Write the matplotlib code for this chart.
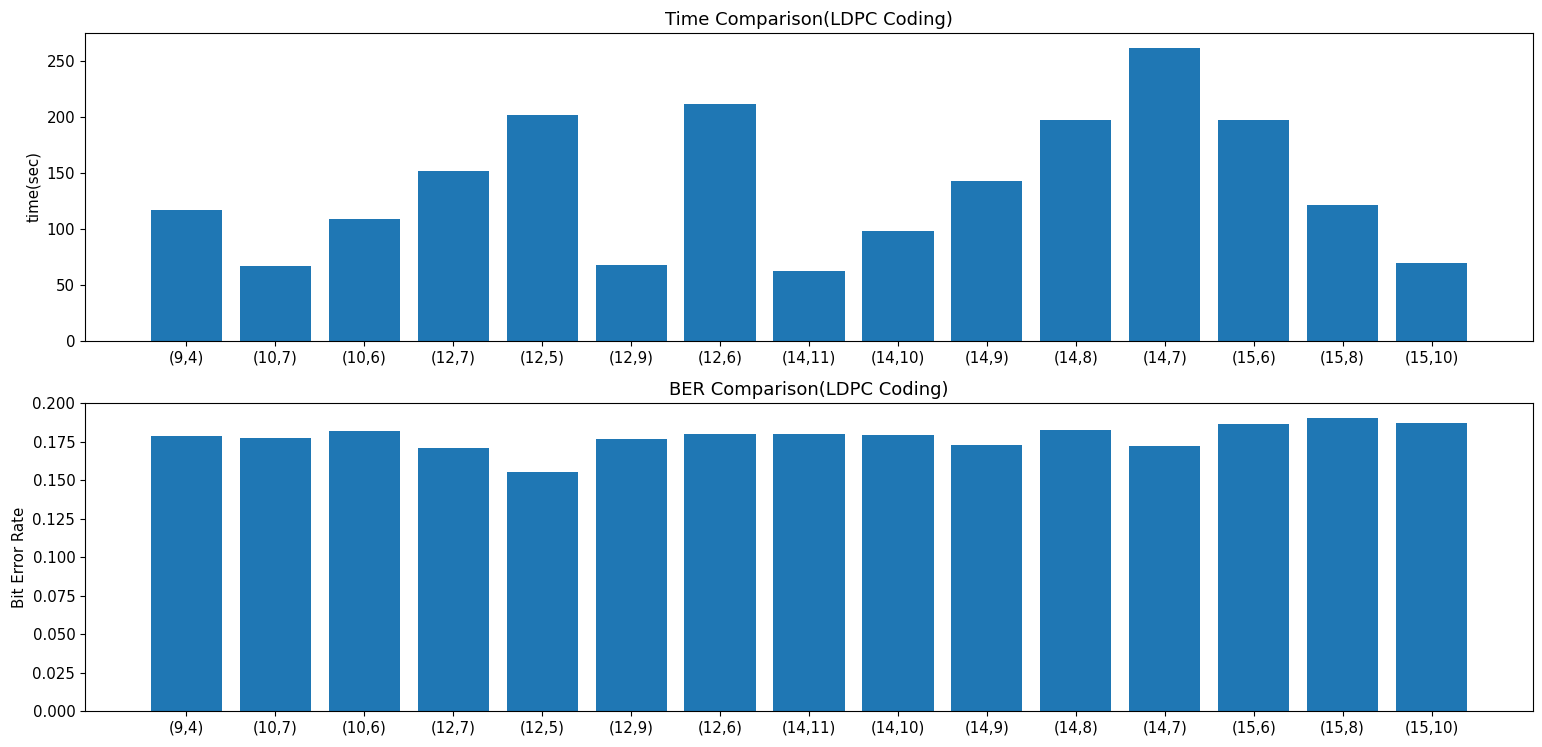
import numpy as np
import matplotlib.pyplot as plt

codes = ['(9,4)', '(10,7)', '(10,6)', '(12,7)', '(12,5)', '(12,9)', '(12,6)', '(14,11)',
         '(14,10)', '(14,9)', '(14,8)', '(14,7)', '(15,6)', '(15,8)', '(15,10)']
times = [117.2, 67.2, 109.2, 151.4, 201.8, 68.1, 211.6, 62.2,
         98.5, 142.9, 196.7, 261.6, 196.7, 121.1, 69.9]
ber = [0.1785, 0.1776, 0.1822, 0.1713, 0.1554, 0.1770, 0.1800, 0.1800,
       0.1793, 0.1728, 0.1828, 0.1722, 0.1865, 0.1907, 0.1872]

plt.rcParams['font.size'] = 10.8

fig, (ax1, ax2) = plt.subplots(2, 1, figsize=(15.42, 7.47), dpi=100)

ax1.bar(codes, times)
ax1.set_title('Time Comparison(LDPC Coding)')
ax1.set_ylabel('time(sec)')

ax2.bar(codes, ber)
ax2.set_title('BER Comparison(LDPC Coding)')
ax2.set_ylabel('Bit Error Rate')

plt.subplots_adjust(left=85/1542, right=1533/1542, top=1-33/747, bottom=1-711/747, hspace=62/308)
plt.savefig('out.png', dpi=100)
